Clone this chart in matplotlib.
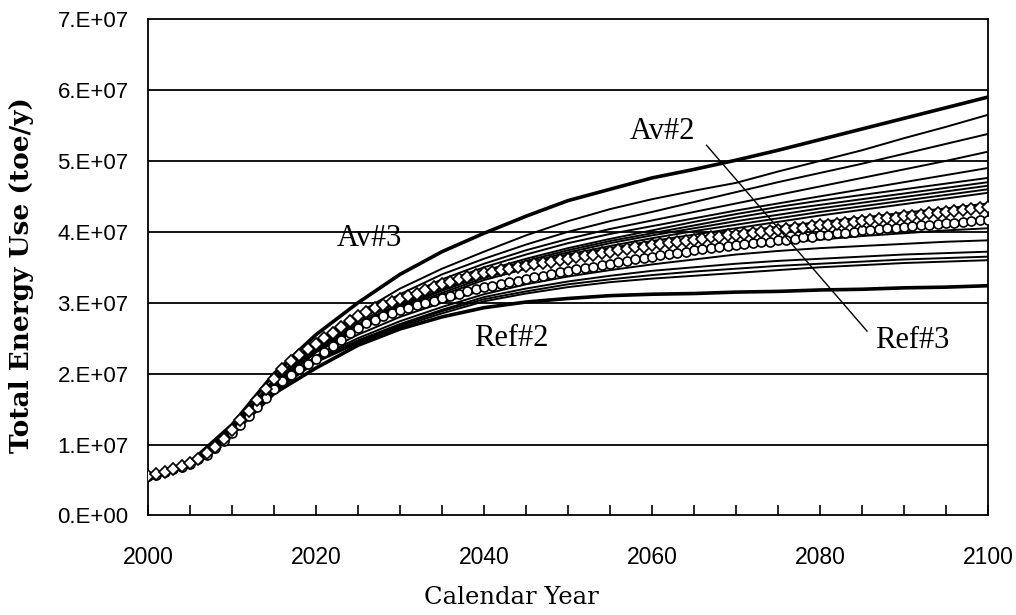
import numpy as np
import matplotlib
matplotlib.use("Agg")
import matplotlib.pyplot as plt
from matplotlib.ticker import MultipleLocator, FuncFormatter

# scenario curves, sampled every 5 years (toe/y, in units of 1e7)
years5 = list(range(2000, 2101, 5))

av3 = [0.55, 0.75, 1.28, 2.00, 2.55, 3.00, 3.40, 3.72, 3.98, 4.22, 4.44,
       4.60, 4.76, 4.88, 5.01, 5.15, 5.30, 5.45, 5.60, 5.75, 5.90]
ref2 = [0.55, 0.73, 1.15, 1.72, 2.08, 2.40, 2.63, 2.80, 2.93, 3.01, 3.06,
        3.10, 3.12, 3.13, 3.15, 3.16, 3.18, 3.19, 3.21, 3.22, 3.24]

others = [
    [0.55, 0.74, 1.24, 1.92, 2.45, 2.85, 3.20, 3.48, 3.72, 3.95, 4.15, 4.32, 4.46, 4.58, 4.69, 4.85, 5.00, 5.15, 5.32, 5.48, 5.65],
    [0.55, 0.74, 1.23, 1.90, 2.42, 2.80, 3.12, 3.40, 3.62, 3.82, 4.00, 4.15, 4.28, 4.42, 4.56, 4.70, 4.83, 4.96, 5.10, 5.24, 5.38],
    [0.55, 0.74, 1.22, 1.88, 2.40, 2.76, 3.06, 3.33, 3.55, 3.74, 3.90, 4.04, 4.16, 4.28, 4.40, 4.52, 4.64, 4.76, 4.88, 5.00, 5.13],
    [0.55, 0.74, 1.22, 1.87, 2.38, 2.73, 3.02, 3.28, 3.50, 3.68, 3.84, 3.97, 4.08, 4.19, 4.30, 4.40, 4.50, 4.60, 4.70, 4.80, 4.90],
    [0.55, 0.74, 1.21, 1.86, 2.36, 2.70, 2.99, 3.24, 3.45, 3.62, 3.77, 3.90, 4.02, 4.14, 4.25, 4.35, 4.44, 4.52, 4.60, 4.68, 4.76],
    [0.55, 0.74, 1.21, 1.85, 2.35, 2.68, 2.97, 3.22, 3.42, 3.59, 3.74, 3.87, 3.98, 4.09, 4.20, 4.30, 4.38, 4.46, 4.54, 4.62, 4.70],
    [0.55, 0.74, 1.20, 1.84, 2.34, 2.67, 2.95, 3.19, 3.40, 3.56, 3.71, 3.84, 3.95, 4.05, 4.15, 4.24, 4.33, 4.41, 4.49, 4.57, 4.65],
    [0.55, 0.74, 1.20, 1.83, 2.33, 2.66, 2.93, 3.17, 3.38, 3.54, 3.68, 3.80, 3.91, 4.01, 4.10, 4.19, 4.28, 4.36, 4.44, 4.52, 4.60],
    [0.55, 0.74, 1.20, 1.82, 2.32, 2.64, 2.91, 3.14, 3.35, 3.51, 3.65, 3.77, 3.87, 3.96, 4.05, 4.14, 4.23, 4.31, 4.39, 4.47, 4.55],
    [0.55, 0.74, 1.19, 1.81, 2.30, 2.62, 2.88, 3.11, 3.32, 3.48, 3.61, 3.72, 3.82, 3.91, 4.00, 4.07, 4.14, 4.20, 4.27, 4.33, 4.40],
    [0.55, 0.73, 1.18, 1.79, 2.25, 2.55, 2.80, 3.00, 3.18, 3.32, 3.44, 3.54, 3.63, 3.71, 3.78, 3.84, 3.89, 3.94, 3.98, 4.02, 4.05],
    [0.55, 0.73, 1.17, 1.78, 2.22, 2.50, 2.74, 2.94, 3.12, 3.26, 3.37, 3.46, 3.54, 3.61, 3.68, 3.73, 3.77, 3.80, 3.83, 3.86, 3.88],
    [0.55, 0.73, 1.17, 1.76, 2.20, 2.47, 2.70, 2.90, 3.08, 3.20, 3.30, 3.38, 3.45, 3.50, 3.55, 3.59, 3.62, 3.65, 3.68, 3.70, 3.72],
    [0.55, 0.73, 1.16, 1.75, 2.18, 2.45, 2.68, 2.88, 3.05, 3.16, 3.26, 3.33, 3.39, 3.44, 3.48, 3.52, 3.55, 3.58, 3.61, 3.63, 3.65],
    [0.55, 0.73, 1.16, 1.74, 2.16, 2.43, 2.66, 2.85, 3.02, 3.13, 3.22, 3.29, 3.34, 3.38, 3.42, 3.46, 3.50, 3.53, 3.56, 3.58, 3.60],
]

# yearly marker series
years1 = list(range(2000, 2101))
ser_diamond = [
    0.55, 0.58, 0.62, 0.66, 0.70, 0.74, 0.80, 0.88, 0.97, 1.08,
    1.20, 1.34, 1.48, 1.63, 1.78, 1.93, 2.06, 2.18, 2.27, 2.35,
    2.42, 2.50, 2.58, 2.66, 2.74, 2.81, 2.87, 2.92, 2.97, 3.01,
    3.05, 3.09, 3.13, 3.18, 3.22, 3.26, 3.29, 3.33, 3.36, 3.39,
    3.42, 3.44, 3.46, 3.48, 3.50, 3.52, 3.54, 3.56, 3.58, 3.60,
    3.62, 3.64, 3.66, 3.68, 3.70, 3.72, 3.74, 3.76, 3.78, 3.79,
    3.81, 3.83, 3.84, 3.86, 3.87, 3.89, 3.90, 3.92, 3.93, 3.95,
    3.96, 3.97, 3.99, 4.00, 4.01, 4.03, 4.04, 4.05, 4.06, 4.08,
    4.09, 4.10, 4.11, 4.13, 4.14, 4.15, 4.16, 4.18, 4.19, 4.20,
    4.22, 4.23, 4.24, 4.26, 4.27, 4.28, 4.30, 4.31, 4.32, 4.34,
    4.35,
]
ser_circle = [
    0.55, 0.57, 0.61, 0.65, 0.69, 0.73, 0.79, 0.86, 0.95, 1.05,
    1.16, 1.28, 1.40, 1.53, 1.65, 1.78, 1.89, 1.98, 2.06, 2.13,
    2.20, 2.30, 2.39, 2.48, 2.57, 2.65, 2.71, 2.76, 2.81, 2.86,
    2.90, 2.93, 2.97, 3.00, 3.03, 3.06, 3.10, 3.13, 3.16, 3.19,
    3.22, 3.24, 3.27, 3.29, 3.31, 3.33, 3.36, 3.38, 3.40, 3.43,
    3.45, 3.47, 3.49, 3.51, 3.53, 3.55, 3.57, 3.59, 3.61, 3.63,
    3.65, 3.67, 3.69, 3.70, 3.72, 3.74, 3.76, 3.77, 3.79, 3.80,
    3.82, 3.83, 3.84, 3.85, 3.86, 3.88, 3.89, 3.90, 3.92, 3.93,
    3.95, 3.96, 3.98, 3.99, 4.00, 4.02, 4.03, 4.04, 4.05, 4.06,
    4.07, 4.08, 4.09, 4.10, 4.11, 4.12, 4.13, 4.14, 4.15, 4.16,
    4.17,
]

SCALE = 1e7
SERIF = "Liberation Serif"
SANS = "Liberation Sans"

fig = plt.figure(figsize=(10.16, 6.15), dpi=100)
ax = fig.add_axes([0.1457, 0.1618, 0.8267, 0.8072])

for v in range(1, 7):
    ax.axhline(v * SCALE, color="black", lw=1.3, zorder=1)

x5 = np.array(years5)
for s in others:
    ax.plot(x5, np.array(s) * SCALE, color="black", lw=1.4, zorder=2)
ax.plot(x5, np.array(av3) * SCALE, color="black", lw=2.6, zorder=3)
ax.plot(x5, np.array(ref2) * SCALE, color="black", lw=2.6, zorder=3)

x1 = np.array(years1)
ax.plot(x1, np.array(ser_circle) * SCALE, color="black", lw=1.2, marker="o",
        ms=6.5, mfc="white", mec="black", mew=1.2, zorder=4)
ax.plot(x1, np.array(ser_diamond) * SCALE, color="black", lw=1.2, marker="D",
        ms=6.0, mfc="white", mec="black", mew=1.2, zorder=5)

# labels for the extreme / reference scenarios
tkw = dict(family=SERIF, fontsize=22, ha="center", va="center", zorder=6)
ax.text(2026.4, 3.9 * SCALE, "Av#3", **tkw)
ax.text(2061.3, 5.41 * SCALE, "Av#2", **tkw)
ax.text(2043.3, 2.5 * SCALE, "Ref#2", **tkw)
ax.text(2091.0, 2.47 * SCALE, "Ref#3", **tkw)
ax.plot([2066.5, 2085.6], [5.22 * SCALE, 2.6 * SCALE], color="black", lw=1.0, zorder=6)

ax.set_xlim(2000, 2100)
ax.set_ylim(0, 7 * SCALE)
ax.xaxis.set_major_locator(MultipleLocator(20))
ax.xaxis.set_minor_locator(MultipleLocator(5))
ax.yaxis.set_major_locator(MultipleLocator(SCALE))
ax.yaxis.set_major_formatter(FuncFormatter(
    lambda v, p: "%d.E+%02d" % (round(v / SCALE), 7) if v > 0 else "0.E+00"))
ax.tick_params(axis="x", which="both", direction="in", length=7, width=1.2,
               pad=22, labelsize=16.5)
ax.tick_params(axis="y", length=0, pad=14, labelsize=16)
for lab in ax.get_xticklabels() + ax.get_yticklabels():
    lab.set_family(SANS)
for sp in ax.spines.values():
    sp.set_linewidth(1.3)

fig.text(511 / 1016, 1 - 598 / 615, "Calendar Year", family="DejaVu Serif",
         fontsize=17.5, ha="center", va="center")
fig.text(22 / 1016, 1 - 275 / 615, "Total Energy Use (toe/y)", family="DejaVu Serif",
         fontsize=19, fontweight="bold", rotation=90, ha="center", va="center")

fig.savefig("out.png", dpi=100)
